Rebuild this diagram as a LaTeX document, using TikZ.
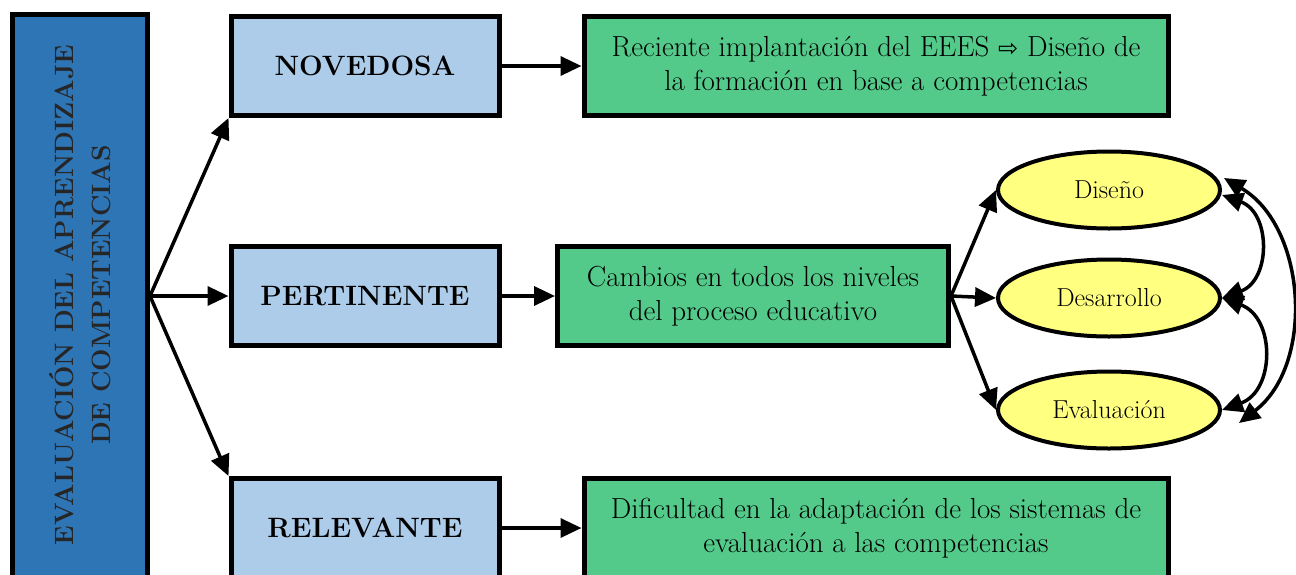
\documentclass[tikz,border=0pt]{standalone}
\usepackage{fontspec}
\usepackage{tikz}
\usetikzlibrary{arrows.meta,shapes.geometric}
\newfontfamily\arrowfont{DejaVu Sans}
\definecolor{maincol}{HTML}{2E75B6}
\definecolor{qualcol}{HTML}{ADCCEA}
\definecolor{desccol}{HTML}{53CA8A}
\definecolor{phasecol}{HTML}{FFFF80}

\begin{document}
\begin{tikzpicture}
  [x=1pt,y=-1pt,line width=3.5pt,
   qual/.style={draw,line width=5pt,fill=qualcol,minimum width=268pt,minimum height=99pt,font=\fontsize{28}{32}\selectfont\bfseries},
   desc/.style={draw,line width=5pt,fill=desccol,minimum height=99pt,align=center,font=\fontsize{29}{34}\selectfont},
   phase/.style={draw,ellipse,line width=4pt,fill=phasecol,minimum width=222pt,minimum height=77pt,font=\fontsize{26}{30}\selectfont},
   arr/.style={-{Triangle[length=21pt,width=19pt]}},
   dblarr/.style={{Triangle[length=21pt,width=19pt]}-{Triangle[length=21pt,width=19pt]}}]
  \useasboundingbox (0,0) rectangle (1296,574);
  \clip (0,0) rectangle (1296,574);

  \node[draw,line width=5pt,fill=maincol,minimum width=135pt,minimum height=590pt] (eval) at (80,309) {};
  \node[rotate=90,align=center,font=\fontsize{26.5}{37}\selectfont\bfseries,text=black!85] (evaltxt) at (80,295) {EVALUACIÓN DEL APRENDIZAJE\\DE COMPETENCIAS};

  \node[qual] (nov) at (365,66) {NOVEDOSA};
  \node[qual] (pert) at (365,296) {PERTINENTE};
  \node[qual] (rel) at (365,528) {RELEVANTE};

  \node[desc,minimum width=584pt] (novdesc) at (876,66) {Reciente implantación del EEES {\arrowfont\fontsize{24}{34}\selectfont ⇨} Diseño de\\la formación en base a competencias};
  \node[desc,minimum width=391pt] (pertdesc) at (753,296) {Cambios en todos los niveles\\del proceso educativo};
  \node[desc,minimum width=584pt] (reldesc) at (876,528) {Dificultad en la adaptación de los sistemas de\\evaluación a las competencias};

  \node[phase] (dis) at (1109,190) {Diseño};
  \node[phase] (des) at (1109,298) {Desarrollo};
  \node[phase] (eva) at (1109,410) {Evaluación};

  \coordinate (fan) at (eval.east |- pert.west);
  \coordinate (disin) at ([yshift=-5pt]dis.east);
  \coordinate (disout) at ([shift={(2pt,12pt)}]dis.east);
  \coordinate (evaout) at ([shift={(17pt,-13pt)}]eva.east);
  \foreach \to in {nov.south west,pert.west,rel.north west}
    \draw[arr] (fan) -- (\to);
  \foreach \from/\to in {nov/novdesc,pert/pertdesc,rel/reldesc}
    \draw[arr] (\from) -- (\to);
  \foreach \to in {dis.west,des.west,eva.west}
    \draw[arr] (pertdesc.east) -- (\to);

  \draw[dblarr] (disin) to[bend left=70,looseness=1.3] (des.east);
  \draw[dblarr] (des.east) to[bend left=70,looseness=1.3] (eva.east);
  \draw[dblarr] (disout) to[bend left=56] (evaout);

\end{tikzpicture}
\end{document}
